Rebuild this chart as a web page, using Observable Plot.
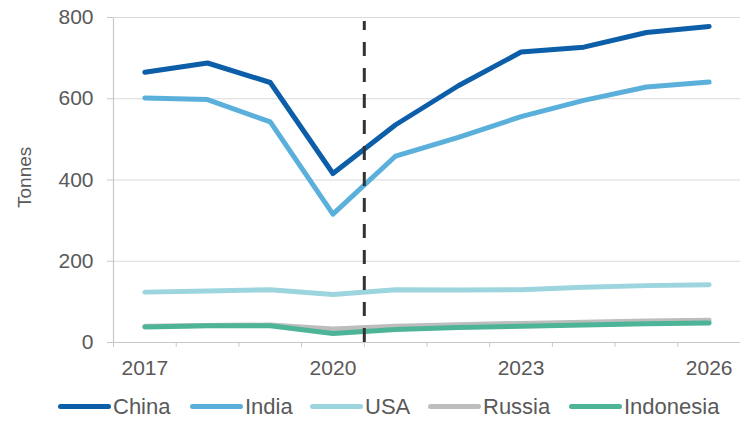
<!DOCTYPE html>
<html>
<head>
<meta charset="utf-8">
<script src="https://cdn.jsdelivr.net/npm/d3@7"></script>
<script src="https://cdn.jsdelivr.net/npm/@observablehq/plot@0.6"></script>
<style>
  html, body { margin: 0; padding: 0; background: #fff; }
  body { width: 740px; height: 423px; overflow: hidden; font-family: "Liberation Sans", Arial, sans-serif; }
  #legend { position: relative; width: 740px; height: 33px; }
  .item { position: absolute; top: 0; height: 33px; display: flex; align-items: center; font-size: 22px; color: #595959; white-space: nowrap; }
  .sw { width: 53px; height: 5px; border-radius: 3px; margin-right: 2px; }
</style>
</head>
<body>
<div id="chart"></div>
<div id="legend"></div>
<script>
const years = [2017, 2018, 2019, 2020, 2021, 2022, 2023, 2024, 2025, 2026];
const china = [665, 688, 640, 416, 536, 632, 715, 727, 763, 778];
const india = [602, 598, 543, 316, 459, 505, 556, 596, 629, 641];
const usa = [124, 127, 130, 118, 130, 129, 130, 136, 140, 142];
const russia = [40, 42, 43, 33, 40, 44, 47, 50, 53, 55];
const indonesia = [38, 41, 41, 22, 32, 37, 40, 43, 46, 48];
const seriesNames = ["China", "India", "USA", "Russia", "Indonesia"];
const seriesColors = ["#0c5ea8", "#5ab0db", "#9dd5de", "#bdbdbd", "#4db497"];
const yTicks = [0, 200, 400, 600, 800];
const xLabels = [2017, 2020, 2023, 2026];
const forecastStart = 2020.5;
const legendSwatchX = [58, 190, 310, 428, 569];

const seriesValues = [china, india, usa, russia, indonesia];
const data = [];
seriesNames.forEach((name, i) => {
  years.forEach((yr, j) => data.push({country: name, year: yr, value: seriesValues[i][j]}));
});
const boundaries = [...years.map(y => y - 0.5), years[years.length - 1] + 0.5];

const chart = Plot.plot({
  width: 740,
  height: 390,
  marginLeft: 113,
  marginRight: 0,
  marginTop: 17,
  marginBottom: 48,
  style: {fontFamily: "'Liberation Sans', Arial, sans-serif", background: "#fff"},
  x: {domain: [boundaries[0], boundaries[boundaries.length - 1]], axis: null},
  y: {domain: [0, 800], axis: null},
  color: {domain: seriesNames, range: seriesColors},
  marks: [
    Plot.ruleY(yTicks.filter(d => d > 0), {stroke: "#d9d9d9", strokeWidth: 1.2}),
    Plot.ruleY([0], {stroke: "#c8c8c8", strokeWidth: 1.2}),
    Plot.ruleX([boundaries[0]], {stroke: "#c8c8c8", strokeWidth: 1.2}),
    Plot.axisY({ticks: yTicks, tickSize: 6, tickPadding: 14, stroke: "#c8c8c8", fill: "#595959", fontSize: 21, label: null, tickFormat: d => String(d)}),
    Plot.axisX({ticks: boundaries, tickSize: 5, stroke: "#c8c8c8", text: null, label: null}),
    Plot.axisX({ticks: xLabels, tickSize: 0, tickPadding: 18, fill: "#595959", fontSize: 21, label: null, tickFormat: d => String(d)}),
    Plot.text(["Tonnes"], {frameAnchor: "left", rotate: -90, dx: -89, dy: 28, fontSize: 19, fill: "#595959"}),
    Plot.line(data, {x: "year", y: "value", z: "country", stroke: "country", strokeWidth: 5, strokeLinecap: "round", strokeLinejoin: "round"}),
    Plot.ruleX([forecastStart], {y1: 0, y2: 790, stroke: "#333", strokeWidth: 3, strokeDasharray: "14,12"})
  ]
});
document.getElementById("chart").appendChild(chart);

const legend = document.getElementById("legend");
seriesNames.forEach((name, i) => {
  const item = document.createElement("div");
  item.className = "item";
  item.style.left = legendSwatchX[i] + "px";
  const sw = document.createElement("span");
  sw.className = "sw";
  sw.style.background = seriesColors[i];
  const label = document.createElement("span");
  label.textContent = name;
  item.appendChild(sw);
  item.appendChild(label);
  legend.appendChild(item);
});
</script>
</body>
</html>
